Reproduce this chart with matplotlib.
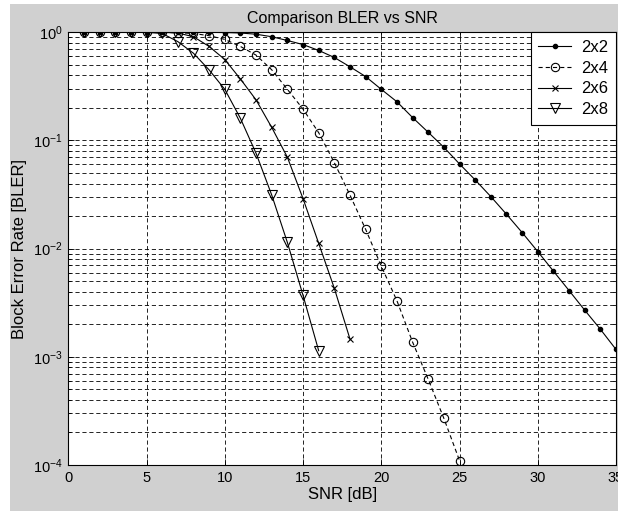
import numpy as np
import matplotlib
matplotlib.use('Agg')
import matplotlib.pyplot as plt
from matplotlib.patches import Rectangle

# SNR points (dB) for each antenna setup
snr_2x2 = list(range(1, 36))
snr_2x4 = list(range(1, 26))
snr_2x6 = list(range(1, 19))
snr_2x8 = list(range(1, 17))

# BLER
bler_2x2 = [1.0, 1.0, 1.0, 1.0, 1.0, 1.0, 1.0, 1.0, 0.998,
            0.995, 0.985, 0.96, 0.91, 0.84, 0.77, 0.68, 0.585, 0.48,
            0.39, 0.297, 0.228, 0.163, 0.119, 0.0865, 0.0607, 0.0432,
            0.0303, 0.0208, 0.0141, 0.0094, 0.0062, 0.0041, 0.0027,
            0.0018, 0.00117]
bler_2x4 = [1.0, 1.0, 1.0, 1.0, 1.0, 1.0, 0.99, 0.975, 0.93, 0.86,
            0.74, 0.615, 0.45, 0.297, 0.195, 0.118, 0.0624, 0.0313,
            0.0151, 0.0069, 0.0033, 0.00137, 0.00062, 0.00027, 0.00011]
bler_2x6 = [1.0, 1.0, 1.0, 1.0, 1.0, 1.0, 0.985, 0.91, 0.74, 0.56,
            0.37, 0.237, 0.132, 0.07, 0.029, 0.0112, 0.0043, 0.00146]
bler_2x8 = [1.0, 1.0, 1.0, 1.0, 1.0, 0.975, 0.82, 0.64, 0.449, 0.297,
            0.16, 0.076, 0.0313, 0.0114, 0.0037, 0.00114]

labels = ['2x2', '2x4', '2x6', '2x8']
x_ticks = [0, 5, 10, 15, 20, 25, 30, 35]
y_ticks = [1e-4, 1e-3, 1e-2, 1e-1, 1]
y_tick_labels = [r'$\mathregular{10^{-4}}$', r'$\mathregular{10^{-3}}$',
                 r'$\mathregular{10^{-2}}$', r'$\mathregular{10^{-1}}$',
                 r'$\mathregular{10^{0}}$']

plt.rcParams['font.family'] = ['Liberation Sans', 'DejaVu Sans']
plt.rcParams['mathtext.fontset'] = 'custom'
plt.rcParams['mathtext.rm'] = 'Liberation Sans'
plt.rcParams['mathtext.it'] = 'Liberation Sans:italic'
plt.rcParams['lines.scale_dashes'] = False

W, H = 618, 511
fig = plt.figure(figsize=(W / 100, H / 100), dpi=100)
fig.patch.set_facecolor('white')
# grey window area (leaves the thin white strip left and top)
fig.add_artist(Rectangle((10 / W, 0), 1, 1 - 4.5 / H, transform=fig.transFigure,
                         facecolor='#d0d0d0', edgecolor='none', zorder=-5))

ax = fig.add_axes([68.3 / W, 1 - 465 / H, (616 - 68.3) / W, (465 - 32.3) / H])
ax.set_facecolor('white')
ax.set_yscale('log')

ax.plot(snr_2x2, bler_2x2, color='k', lw=0.8, marker='.', ms=6, label=labels[0])
ax.plot(snr_2x4, bler_2x4, color='k', lw=0.8, dashes=(3, 2.2), marker='o', ms=6,
        mfc='none', mew=0.8, label=labels[1])
ax.plot(snr_2x6, bler_2x6, color='k', lw=0.8, marker='x', ms=4.3, mew=0.8,
        label=labels[2])
ax.plot(snr_2x8, bler_2x8, color='k', lw=0.8, marker='v', ms=7, mfc='none',
        mew=0.8, label=labels[3])

ax.set_xlim(0, 35)
ax.set_ylim(1e-4, 1)
ax.set_xticks(x_ticks)
ax.set_yticks(y_ticks)
ax.set_yticklabels(y_tick_labels)

ax.grid(True, which='major', color='k', lw=0.6, dashes=(3, 2))
ax.grid(True, which='minor', axis='y', color='k', lw=0.6, dashes=(3, 2))
ax.tick_params(which='both', direction='in', top=True, right=True,
               labelsize=10.5, width=0.6)
ax.tick_params(which='major', length=4, pad=4)
ax.tick_params(which='minor', length=2)
for sp in ax.spines.values():
    sp.set_linewidth(0.8)

ax.set_title('Comparison BLER vs SNR', fontsize=11.5, pad=7)
ax.set_xlabel('SNR [dB]', fontsize=12, labelpad=2)
ax.set_ylabel('Block Error Rate [BLER]', fontsize=12, labelpad=4)

leg = ax.legend(loc='upper right', fontsize=12, fancybox=False, framealpha=1,
                edgecolor='k', borderaxespad=0, handlelength=2.0,
                handletextpad=0.6, labelspacing=0.35, borderpad=0.45)
leg.get_frame().set_linewidth(0.8)

plt.savefig('out.png', dpi=100, facecolor=fig.get_facecolor())
